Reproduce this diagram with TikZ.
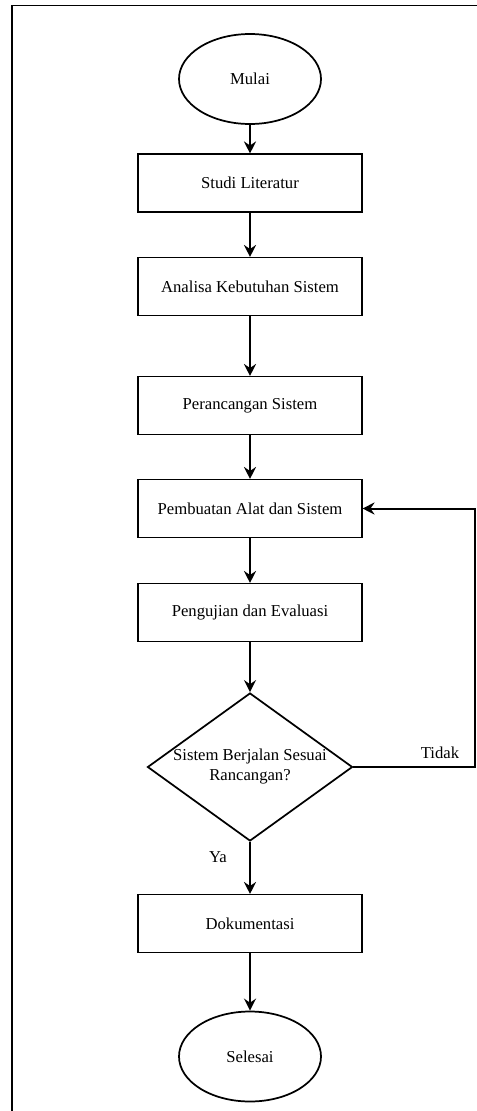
\documentclass[tikz,border=0pt]{standalone}
\usepackage{fontspec}
\setmainfont{Liberation Serif}
\usepackage{tikz}
\usetikzlibrary{arrows.meta,shapes.geometric}

\begin{document}
\begin{tikzpicture}[x=0.75pt,y=0.75pt,yscale=-1,
    font=\fontsize{12.5}{15}\selectfont,
    kotak/.style={draw, line width=0.8pt, minimum width=168pt, minimum height=43.5pt, inner sep=0pt},
    elips/.style={draw, ellipse, line width=1.3pt, minimum width=106.5pt, minimum height=67.5pt, inner sep=0pt},
    cek/.style={draw, diamond, line width=1.3pt, align=center, inner sep=0pt, shape aspect=1.385, minimum width=153.75pt, minimum height=111pt},
    panah/.style={line width=1.5pt, -{Stealth[length=9pt,width=9pt,inset=3pt]}}]
    \useasboundingbox (0,0) rectangle (477,1111);
    %Frame
    \draw [line width=1.3pt] (12,1111) -- (12,5.5) -- (477,5.5) ;
    
    %Flowchart: Terminator
    \node [elips] (mulai) at (250,79) {Mulai};
    %Flowchart: Process
    \node [kotak] (studi) at (250,183) {Studi Literatur};
    \node [kotak] (analisa) at (250,286.5) {Analisa Kebutuhan Sistem};
    \node [kotak] (rancang) at (250,405.5) {Perancangan Sistem};
    \node [kotak] (buat) at (250,508.5) {Pembuatan Alat dan Sistem};
    \node [kotak] (uji) at (250,612.5) {Pengujian dan Evaluasi};
    %Flowchart: Decision
    \node [cek] (sesuai) at (250,767) {Sistem Berjalan Sesuai\\Rancangan?};
    \node [kotak] (dok) at (250,923.5) {Dokumentasi};
    %Flowchart: Terminator
    \node [elips] (selesai) at (250,1056.5) {Selesai};
    
    %Straight Lines
    \draw [panah] (mulai) -- (studi) ;
    \draw [panah] (studi) -- (analisa) ;
    \draw [panah] (analisa) -- (rancang) ;
    \draw [panah] (rancang) -- (buat) ;
    \draw [panah] (buat) -- (uji) ;
    \draw [panah] (uji) -- (sesuai) ;
    \draw [panah] (sesuai) -- (dok) ;
    \draw [panah] (dok) -- (selesai) ;
    %Loop back
    \coordinate (balik) at (475,767);
    \draw [panah] (sesuai.east) -- (balik) |- (buat.east) ;
    
    %Labels
    \node (tidak) at (440,753) {Tidak};
    \node (ya) at (218,857) {Ya};
    
\end{tikzpicture}
\end{document}
